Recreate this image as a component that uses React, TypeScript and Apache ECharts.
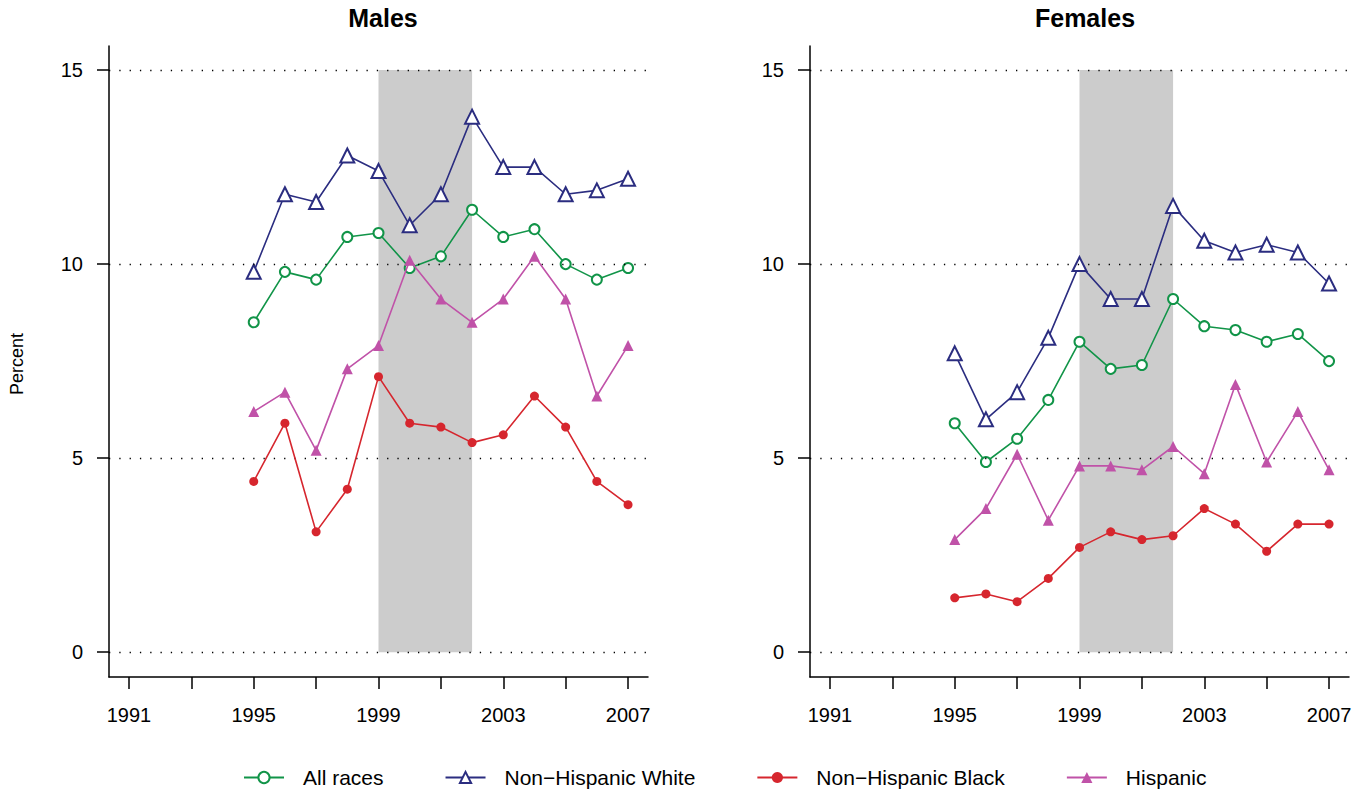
import React, { useEffect, useRef } from "react";
import * as echarts from "echarts";

const years = [1995, 1996, 1997, 1998, 1999, 2000, 2001, 2002, 2003, 2004, 2005, 2006, 2007];

const maleAll = [8.5, 9.8, 9.6, 10.7, 10.8, 9.9, 10.2, 11.4, 10.7, 10.9, 10.0, 9.6, 9.9];
const maleWhite = [9.8, 11.8, 11.6, 12.8, 12.4, 11.0, 11.8, 13.8, 12.5, 12.5, 11.8, 11.9, 12.2];
const maleBlack = [4.4, 5.9, 3.1, 4.2, 7.1, 5.9, 5.8, 5.4, 5.6, 6.6, 5.8, 4.4, 3.8];
const maleHisp = [6.2, 6.7, 5.2, 7.3, 7.9, 10.1, 9.1, 8.5, 9.1, 10.2, 9.1, 6.6, 7.9];

const femAll = [5.9, 4.9, 5.5, 6.5, 8.0, 7.3, 7.4, 9.1, 8.4, 8.3, 8.0, 8.2, 7.5];
const femWhite = [7.7, 6.0, 6.7, 8.1, 10.0, 9.1, 9.1, 11.5, 10.6, 10.3, 10.5, 10.3, 9.5];
const femBlack = [1.4, 1.5, 1.3, 1.9, 2.7, 3.1, 2.9, 3.0, 3.7, 3.3, 2.6, 3.3, 3.3];
const femHisp = [2.9, 3.7, 5.1, 3.4, 4.8, 4.8, 4.7, 5.3, 4.6, 6.9, 4.9, 6.2, 4.7];

const xTicks = [1991, 1993, 1995, 1997, 1999, 2001, 2003, 2005, 2007];
const xLabels = [1991, 1995, 1999, 2003, 2007];
const yTicks = [0, 5, 10, 15];
const recession = [1999, 2002];

const panelTitles = ["Males", "Females"];
const seriesNames = ["All races", "Non\u2212Hispanic White", "Non\u2212Hispanic Black", "Hispanic"];

const colors = ["#119448", "#2b2d80", "#d6262e", "#c052a8"];
const symbols = ["emptyCircle", "emptyTriangle", "circle", "triangle"];
const symbolSizes = [10, 14, 9, 11];

export default function App() {
  const ref = useRef<HTMLDivElement>(null);
  useEffect(() => {
    if (!ref.current) return;
    const chart = echarts.init(ref.current, null, { renderer: "svg" });
    const font = "Liberation Sans, Arial, sans-serif";
    const grids = [
      { left: 109, top: 46, width: 539, height: 631 },
      { left: 810, top: 46, width: 539, height: 631 },
    ];
    const xAxes = grids.map((_, i) => ({
      type: "value",
      gridIndex: i,
      min: 1990.36,
      max: 2007.64,
      splitLine: { show: false },
      axisLine: { show: true, onZero: false, lineStyle: { color: "#000", width: 1.5 } },
      axisTick: { show: true, customValues: xTicks, length: 12, lineStyle: { color: "#000", width: 1.5 } },
      axisLabel: {
        customValues: xLabels,
        color: "#000",
        fontSize: 20,
        fontFamily: font,
        margin: 28,
        formatter: (v: number) => String(v),
      },
    }));
    const yAxes = grids.map((_, i) => ({
      type: "value",
      gridIndex: i,
      min: -0.64,
      max: 15.62,
      splitLine: { show: false },
      axisLine: { show: true, onZero: false, lineStyle: { color: "#000", width: 1.5 } },
      axisTick: { show: true, customValues: yTicks, length: 12, lineStyle: { color: "#000", width: 1.5 } },
      axisLabel: {
        customValues: yTicks,
        color: "#000",
        fontSize: 20,
        fontFamily: font,
        margin: 26,
      },
    }));
    const panels = [
      [maleAll, maleWhite, maleBlack, maleHisp],
      [femAll, femWhite, femBlack, femHisp],
    ];
    const series: any[] = [];
    panels.forEach((sets, p) => {
      series.push({
        type: "line",
        xAxisIndex: p,
        yAxisIndex: p,
        data: [],
        silent: true,
        z: 1,
        markArea: {
          silent: true,
          itemStyle: { color: "#cccccc", opacity: 1 },
          data: [[{ coord: [recession[0], 0] }, { coord: [recession[1], 15] }]],
        },
      });
      series.push({
        type: "line",
        xAxisIndex: p,
        yAxisIndex: p,
        data: [],
        silent: true,
        z: 2,
        markLine: {
          silent: true,
          symbol: "none",
          label: { show: false },
          lineStyle: { color: "#000", width: 1.3, type: [1.3, 9] },
          data: yTicks.map((v) => ({ yAxis: v })),
        },
      });
      sets.forEach((vals, k) => {
        series.push({
          name: seriesNames[k],
          type: "line",
          xAxisIndex: p,
          yAxisIndex: p,
          z: 3 + k,
          data: years.map((y, j) => [y, vals[j]]),
          symbol: symbols[k],
          symbolSize: symbolSizes[k],
          showAllSymbol: true,
          color: colors[k],
          lineStyle: { color: colors[k], width: 1.6 },
          itemStyle: { color: colors[k], borderWidth: 1.6 },
        });
      });
    });
    chart.setOption({
      animation: false,
      backgroundColor: "#fff",
      title: [
        { text: panelTitles[0], left: 378, top: 0, textAlign: "center", textStyle: { fontSize: 25, fontWeight: "bold", color: "#000", fontFamily: font } },
        { text: panelTitles[1], left: 1080, top: 0, textAlign: "center", textStyle: { fontSize: 25, fontWeight: "bold", color: "#000", fontFamily: font } },
      ],
      grid: grids,
      xAxis: xAxes,
      yAxis: yAxes,
      legend: {
        data: seriesNames,
        top: 762,
        left: 238,
        itemWidth: 40,
        itemHeight: 14,
        itemGap: 61,
        textStyle: { fontSize: 21, color: "#000", fontFamily: font, padding: [0, 0, 0, 14] },
      },
      graphic: [
        {
          type: "text",
          x: 17,
          y: 364,
          rotation: Math.PI / 2,
          style: { text: "Percent", fill: "#000", font: "18px " + font, textAlign: "center", textVerticalAlign: "middle" },
        },
      ],
      series,
    });
    return () => chart.dispose();
  }, []);
  return <div ref={ref} style={{ width: 1363, height: 793, position: "absolute", left: 0, top: 0 }} />;
}
